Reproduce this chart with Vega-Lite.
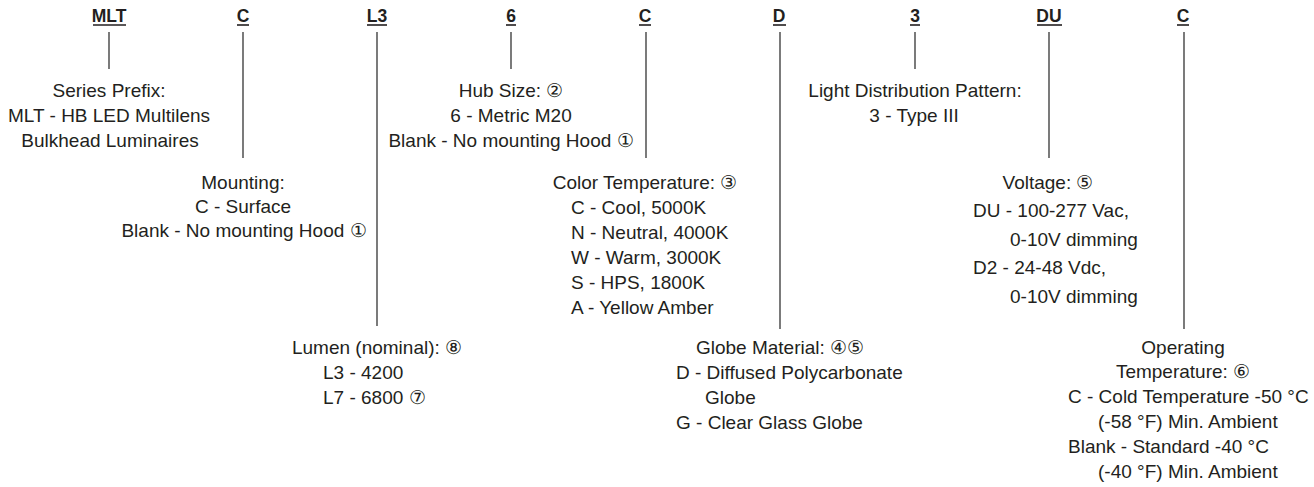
{
  "$schema": "https://vega.github.io/schema/vega-lite/v6.json",
  "width": 1314,
  "height": 487,
  "padding": 0,
  "autosize": {"type": "none"},
  "background": "white",
  "config": {"view": {"stroke": null}},
  "datasets": {
    "codes": [
      {"code": "MLT", "x": 109, "y": 16, "x1": 93, "x2": 126, "uy": 25},
      {"code": "C", "x": 243, "y": 16, "x1": 237, "x2": 249, "uy": 25},
      {"code": "L3", "x": 377, "y": 16, "x1": 367, "x2": 387, "uy": 25},
      {"code": "6", "x": 511, "y": 16, "x1": 506, "x2": 516, "uy": 25},
      {"code": "C", "x": 645, "y": 16, "x1": 639, "x2": 651, "uy": 25},
      {"code": "D", "x": 779, "y": 16, "x1": 773, "x2": 786, "uy": 25},
      {"code": "3", "x": 915, "y": 16, "x1": 910, "x2": 920, "uy": 25},
      {"code": "DU", "x": 1049, "y": 16, "x1": 1037, "x2": 1062, "uy": 25},
      {"code": "C", "x": 1183, "y": 16, "x1": 1177, "x2": 1189, "uy": 25}
    ],
    "leaders": [
      {"x": 109, "y1": 32, "y2": 69},
      {"x": 243, "y1": 32, "y2": 158},
      {"x": 377, "y1": 32, "y2": 326},
      {"x": 511, "y1": 32, "y2": 69},
      {"x": 646, "y1": 32, "y2": 158},
      {"x": 780, "y1": 32, "y2": 329},
      {"x": 915, "y1": 32, "y2": 69},
      {"x": 1049, "y1": 32, "y2": 158},
      {"x": 1184, "y1": 32, "y2": 329}
    ],
    "labels": [
      {"t": "Series Prefix:", "x": 109, "y": 91, "just": "center"},
      {"t": "MLT - HB LED Multilens", "x": 109, "y": 116, "just": "center"},
      {"t": "Bulkhead Luminaires", "x": 110, "y": 141, "just": "center"},
      {"t": "Hub Size: ②", "x": 511, "y": 91, "just": "center"},
      {"t": "6 - Metric M20", "x": 511, "y": 116, "just": "center"},
      {"t": "Blank - No mounting Hood ①", "x": 511, "y": 141, "just": "center"},
      {"t": "Light Distribution Pattern:", "x": 915, "y": 91, "just": "center"},
      {"t": "3 - Type III", "x": 914, "y": 116, "just": "center"},
      {"t": "Mounting:", "x": 243, "y": 183, "just": "center"},
      {"t": "C - Surface", "x": 243, "y": 207, "just": "center"},
      {"t": "Blank - No mounting Hood ①", "x": 244, "y": 231, "just": "center"},
      {"t": "Color Temperature: ③", "x": 645, "y": 183, "just": "center"},
      {"t": "C - Cool, 5000K", "x": 571, "y": 208, "just": "left"},
      {"t": "N - Neutral, 4000K", "x": 571, "y": 233, "just": "left"},
      {"t": "W - Warm, 3000K", "x": 571, "y": 258, "just": "left"},
      {"t": "S - HPS, 1800K", "x": 571, "y": 283, "just": "left"},
      {"t": "A - Yellow Amber", "x": 571, "y": 308, "just": "left"},
      {"t": "Voltage: ⑤", "x": 1048, "y": 183, "just": "center"},
      {"t": "DU - 100-277 Vac,", "x": 973, "y": 211, "just": "left"},
      {"t": "0-10V dimming", "x": 1010, "y": 240, "just": "left"},
      {"t": "D2 - 24-48 Vdc,", "x": 973, "y": 268, "just": "left"},
      {"t": "0-10V dimming", "x": 1010, "y": 297, "just": "left"},
      {"t": "Lumen (nominal): ⑧", "x": 377, "y": 348, "just": "center"},
      {"t": "L3 - 4200", "x": 323, "y": 373, "just": "left"},
      {"t": "L7 - 6800 ⑦", "x": 323, "y": 398, "just": "left"},
      {"t": "Globe Material: ④⑤", "x": 780, "y": 348, "just": "center"},
      {"t": "D - Diffused Polycarbonate", "x": 676, "y": 373, "just": "left"},
      {"t": "Globe", "x": 705, "y": 398, "just": "left"},
      {"t": "G - Clear Glass Globe", "x": 676, "y": 423, "just": "left"},
      {"t": "Operating", "x": 1183, "y": 348, "just": "center"},
      {"t": "Temperature: ⑥", "x": 1183, "y": 372, "just": "center"},
      {"t": "C - Cold Temperature -50 °C", "x": 1068, "y": 397, "just": "left"},
      {"t": "(-58 °F) Min. Ambient", "x": 1098, "y": 422, "just": "left"},
      {"t": "Blank - Standard -40 °C", "x": 1068, "y": 447, "just": "left"},
      {"t": "(-40 °F) Min. Ambient", "x": 1098, "y": 472, "just": "left"}
    ]
  },
  "layer": [
    {
      "data": {"name": "leaders"},
      "mark": {"type": "rule", "stroke": "#333333", "strokeWidth": 1.3},
      "encoding": {
        "x": {"field": "x", "type": "quantitative", "scale": {"domain": [0, 1314], "nice": false, "zero": false}, "axis": null},
        "y": {"field": "y1", "type": "quantitative", "scale": {"domain": [0, 487], "nice": false, "zero": false, "reverse": true}, "axis": null},
        "y2": {"field": "y2"}
      }
    },
    {
      "data": {"name": "codes"},
      "mark": {"type": "rule", "stroke": "#231f20", "strokeWidth": 1.6},
      "encoding": {
        "x": {"field": "x1", "type": "quantitative"},
        "x2": {"field": "x2"},
        "y": {"field": "uy", "type": "quantitative"}
      }
    },
    {
      "data": {"name": "codes"},
      "mark": {"type": "text", "font": "Liberation Sans", "fontSize": 17.5, "fontWeight": "bold", "align": "center", "baseline": "alphabetic", "dy": 6, "color": "#231f20"},
      "encoding": {
        "x": {"field": "x", "type": "quantitative"},
        "y": {"field": "y", "type": "quantitative"},
        "text": {"field": "code"}
      }
    },
    {
      "data": {"name": "labels"},
      "transform": [{"filter": "datum.just === 'center'"}],
      "mark": {"type": "text", "font": "Liberation Sans", "fontSize": 19, "align": "center", "baseline": "middle", "color": "#231f20"},
      "encoding": {
        "x": {"field": "x", "type": "quantitative"},
        "y": {"field": "y", "type": "quantitative"},
        "text": {"field": "t"}
      }
    },
    {
      "data": {"name": "labels"},
      "transform": [{"filter": "datum.just === 'left'"}],
      "mark": {"type": "text", "font": "Liberation Sans", "fontSize": 19, "align": "left", "baseline": "middle", "color": "#231f20"},
      "encoding": {
        "x": {"field": "x", "type": "quantitative"},
        "y": {"field": "y", "type": "quantitative"},
        "text": {"field": "t"}
      }
    }
  ]
}
